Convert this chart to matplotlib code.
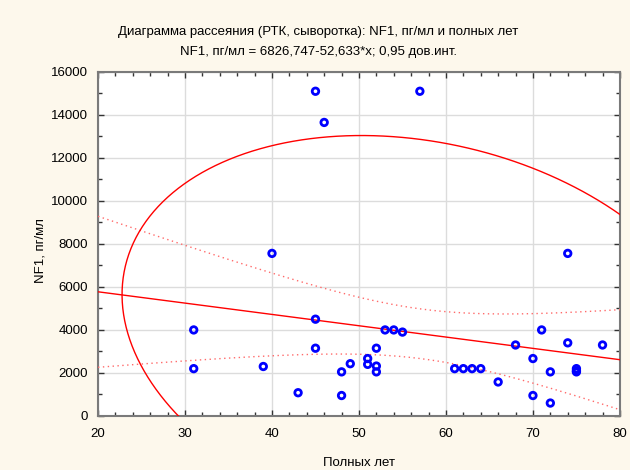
import numpy as np
import matplotlib
matplotlib.use('Agg')
import matplotlib.pyplot as plt
from matplotlib.ticker import MultipleLocator

plt.rcParams['font.family'] = ['Liberation Sans', 'DejaVu Sans']

# age (years) and NF1 (pg/ml)
age = [31, 31, 39, 40, 43, 45, 45, 45, 46, 48, 48, 49, 51, 51, 52, 52, 52, 53, 54, 55,
       57, 61, 62, 63, 64, 66, 68, 70, 70, 71, 72, 72, 74, 74, 75, 75, 75, 78]
nf1 = [4000, 2200, 2300, 7560, 1080, 15100, 4500, 3150, 13650, 2050, 950, 2430, 2670, 2400,
       3150, 2320, 2050, 4000, 4000, 3900, 15100, 2200, 2200, 2200, 2200, 1580, 3300, 2670,
       950, 4000, 2050, 600, 3400, 7560, 2200, 2100, 2050, 3300]
intercept, slope = 6826.747, -52.633
title1 = 'Диаграмма рассеяния (РТК, сыворотка): NF1, пг/мл и полных лет'
title2 = 'NF1, пг/мл = 6826,747-52,633*x; 0,95 дов.инт.'

x = np.array(age, float)
y = np.array(nf1, float)
n = len(x)

fig = plt.figure(figsize=(6.3, 4.7), dpi=100, facecolor='#fdf8ec')
ax = fig.add_axes([0.1556, 0.115, 0.8284, 0.732])
ax.set_facecolor('white')

# regression line + 95% confidence band of the mean
xs = np.linspace(20, 80, 300)
fit = intercept + slope * xs
resid = y - (intercept + slope * x)
s = np.sqrt(np.sum(resid ** 2) / (n - 2))
sxx = np.sum((x - x.mean()) ** 2)
t = 2.028
hw = t * s * np.sqrt(1 / n + (xs - x.mean()) ** 2 / sxx)
ax.plot(xs, fit, color='#ff0000', lw=1.0, zorder=3)
ax.plot(xs, fit + hw, color='#ff6a6a', lw=1.0, ls=(0, (1, 2.5)), zorder=3)
ax.plot(xs, fit - hw, color='#ff6a6a', lw=1.0, ls=(0, (1, 2.5)), zorder=3)

# 95% prediction ellipse (F-based)
f95 = 3.259
c = 2 * (n - 1) * (n + 1) / (n * (n - 2)) * f95
cov = np.cov(x, y)
L = np.linalg.cholesky(cov)
th = np.linspace(0, 2 * np.pi, 400)
ell = L @ (np.vstack([np.cos(th), np.sin(th)]) * np.sqrt(c))
ax.plot(x.mean() + ell[0], y.mean() + ell[1], color='#ff0000', lw=1.0, zorder=3)

ax.scatter(x, y, s=22, facecolors='none', edgecolors='#0000ff', linewidths=2, zorder=4)

ax.set_xlim(20, 80)
ax.set_ylim(0, 16000)
ax.xaxis.set_major_locator(MultipleLocator(10))
ax.xaxis.set_minor_locator(MultipleLocator(2))
ax.yaxis.set_major_locator(MultipleLocator(2000))
ax.yaxis.set_minor_locator(MultipleLocator(1000))
ax.grid(True, which='major', color='#dcdcdc', lw=1.0)
ax.set_axisbelow(True)
ax.tick_params(which='both', direction='in', top=True, right=True, labelsize=9.5,
               color='#333333', width=1)
ax.tick_params(axis='x', which='major', length=4, pad=9)
ax.tick_params(axis='y', which='major', length=4, pad=7)
ax.tick_params(which='minor', length=3)
for sp in ax.spines.values():
    sp.set_color('#7a7a7a')
    sp.set_linewidth(1.5)

ax.set_xlabel('Полных лет', fontsize=9.5, labelpad=12)
ax.set_ylabel('NF1, пг/мл', fontsize=9.5)
ax.yaxis.set_label_coords(-0.098, 0.48)
fig.text(0.505, 0.932, title1, ha='center', va='center', fontsize=9.5)
fig.text(0.505, 0.889, title2, ha='center', va='center', fontsize=9.5)

fig.savefig('out.png', dpi=100, facecolor=fig.get_facecolor())
